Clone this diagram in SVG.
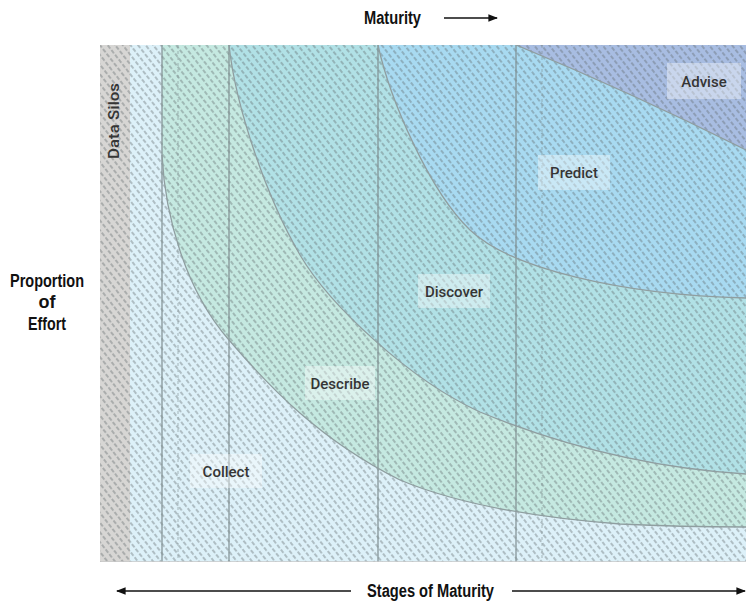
<svg xmlns="http://www.w3.org/2000/svg" width="746" height="605" viewBox="0 0 746 605">
  <style>
    .axis { font-family: "Liberation Sans Narrow", "Liberation Sans", Arial, sans-serif; font-weight: bold; font-size: 18px; fill: #111; }
    .stage { font-family: Roboto, "DejaVu Sans", sans-serif; font-weight: 500; font-size: 15px; fill: #353535; text-anchor: middle; }
    .lbox { fill: #ffffff; fill-opacity: 0.38; }
    .edge { fill: none; stroke: #8f9ea0; stroke-width: 1.3; }
    .grid { stroke: #7f8e90; stroke-width: 1.2; }
    .faint { stroke: #7f8e90; stroke-width: 1; stroke-dasharray: 3 3; opacity: 0.6; }
    .arrow { stroke: #111; stroke-width: 1.6; fill: none; }
  </style>
  <defs>
    <pattern id="hatch" width="6" height="6" patternUnits="userSpaceOnUse" patternTransform="rotate(52)">
      <line x1="0" y1="3" x2="4.2" y2="3" stroke="#5e6869" stroke-width="1" stroke-opacity="0.75"/>
    </pattern>
    <marker id="head" viewBox="0 0 10 10" refX="9" refY="5" markerWidth="6" markerHeight="6" orient="auto-start-reverse" markerUnits="strokeWidth">
      <path d="M0,1 L10,5 L0,9 Z" fill="#111"/>
    </marker>
    <clipPath id="plot"><rect x="100" y="45" width="646" height="517"/></clipPath>
  </defs>

  <!-- plot area regions -->
  <g clip-path="url(#plot)">
    <g id="collect-area">
      <rect x="100" y="45" width="646" height="517" fill="#ddf1f9"/>
    </g>
    <g id="data-silos-area">
      <rect x="100" y="45" width="30" height="517" fill="#d7d6d4"/>
    </g>
    <g id="describe-area">
      <path d="M162,45 L162,155 C165,215 185,290 229,340 C270,388 320,440 400,480 C460,505 540,518 620,524 C680,527 720,527 746,527 L746,45 Z" fill="#c5e9e1"/>
    </g>
    <g id="discover-area">
      <path d="M229,45 C236,110 268,200 300,255 C330,306 410,380 480,412 C560,445 650,468 746,474 L746,45 Z" fill="#b1e1e6"/>
    </g>
    <g id="predict-area">
      <path d="M378,45 C390,100 430,192 470,230 C510,268 620,295 746,298 L746,45 Z" fill="#a8daf1"/>
    </g>
    <g id="advise-area">
      <path d="M516,45 Q630,92 746,150 L746,45 Z" fill="#a8bde2"/>
    </g>

    <!-- hatch overlay -->
    <rect x="100" y="45" width="646" height="517" fill="url(#hatch)"/>

    <!-- stage columns -->
    <g id="grid">
      <line class="faint" x1="178" y1="45" x2="178" y2="562"/>
      <line class="faint" x1="542" y1="45" x2="542" y2="562"/>
      <line class="grid" x1="162" y1="45" x2="162" y2="562"/>
      <line class="grid" x1="229" y1="45" x2="229" y2="562"/>
      <line class="grid" x1="378" y1="45" x2="378" y2="562"/>
      <line class="grid" x1="516" y1="45" x2="516" y2="562"/>
    </g>

    <!-- region boundaries -->
    <g id="connectors">
      <path class="edge" d="M162,155 C165,215 185,290 229,340 C270,388 320,440 400,480 C460,505 540,518 620,524 C680,527 720,527 746,527"/>
      <path class="edge" d="M229,45 C236,110 268,200 300,255 C330,306 410,380 480,412 C560,445 650,468 746,474"/>
      <path class="edge" d="M378,45 C390,100 430,192 470,230 C510,268 620,295 746,298"/>
      <path class="edge" d="M516,45 Q630,92 746,150"/>
    </g>

    <line x1="100" y1="562" x2="746" y2="562" stroke="#c8c8c8" stroke-width="1.5"/>
  </g>

  <!-- stage labels -->
  <g id="label-data-silos">
    <text class="stage" x="0" y="0" transform="translate(119,121) rotate(-90)" fill="#4a4a4a" textLength="76" lengthAdjust="spacingAndGlyphs">Data Silos</text>
  </g>
  <g id="label-collect">
    <rect class="lbox" x="190" y="454" width="72" height="34"/>
    <text class="stage" x="226" y="477">Collect</text>
  </g>
  <g id="label-describe">
    <rect class="lbox" x="305" y="366" width="70" height="34"/>
    <text class="stage" x="340" y="389">Describe</text>
  </g>
  <g id="label-discover">
    <rect class="lbox" x="418" y="274" width="72" height="34"/>
    <text class="stage" x="454" y="297">Discover</text>
  </g>
  <g id="label-predict">
    <rect class="lbox" x="538" y="155" width="72" height="35"/>
    <text class="stage" x="574" y="178">Predict</text>
  </g>
  <g id="label-advise">
    <rect class="lbox" x="667" y="63" width="74" height="36"/>
    <text class="stage" x="704" y="87">Advise</text>
  </g>

  <!-- axis titles -->
  <g id="axis-maturity">
    <text class="axis" x="364" y="24" textLength="57" lengthAdjust="spacingAndGlyphs">Maturity</text>
    <line class="arrow" x1="444" y1="18" x2="497" y2="18" marker-end="url(#head)"/>
  </g>
  <g id="axis-effort">
    <text class="axis" x="47" y="287" text-anchor="middle" textLength="74" lengthAdjust="spacingAndGlyphs">Proportion</text>
    <text class="axis" x="47" y="308" text-anchor="middle">of</text>
    <text class="axis" x="47" y="330" text-anchor="middle" textLength="38" lengthAdjust="spacingAndGlyphs">Effort</text>
  </g>
  <g id="axis-stages">
    <text class="axis" x="367" y="597" textLength="127" lengthAdjust="spacingAndGlyphs">Stages of Maturity</text>
    <line class="arrow" x1="351" y1="591" x2="117" y2="591" marker-end="url(#head)"/>
    <line class="arrow" x1="512" y1="591" x2="745" y2="591" marker-end="url(#head)"/>
  </g>
</svg>
